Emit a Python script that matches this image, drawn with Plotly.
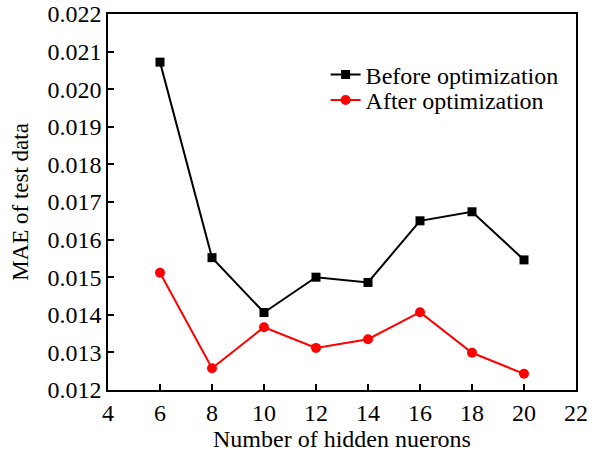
import plotly.graph_objects as go

neurons = [6, 8, 10, 12, 14, 16, 18, 20]
mae_before = [0.02072, 0.01552, 0.01406, 0.01500, 0.01486, 0.01650, 0.01674, 0.01546]
mae_after = [0.01512, 0.01258, 0.01367, 0.01312, 0.01335, 0.01407, 0.01299, 0.01243]

x_ticks = [4, 6, 8, 10, 12, 14, 16, 18, 20, 22]
y_ticks = [0.012, 0.013, 0.014, 0.015, 0.016, 0.017, 0.018, 0.019, 0.020, 0.021, 0.022]

font_family = "Liberation Serif, Times New Roman, serif"
fsize = 24

fig = go.Figure()
fig.add_trace(go.Scatter(
    x=neurons, y=mae_before, name="Before optimization",
    mode="lines+markers",
    line=dict(color="black", width=2),
    marker=dict(symbol="square", size=9, color="black"),
    legend="legend", showlegend=True,
))
fig.add_trace(go.Scatter(
    x=neurons, y=mae_after, name="After optimization",
    mode="lines+markers",
    line=dict(color="#ff0000", width=2),
    marker=dict(symbol="circle", size=10, color="#ff0000"),
    legend="legend2", showlegend=True,
))

axis_common = dict(
    showline=True, linecolor="black", linewidth=1.5, mirror=True,
    ticks="inside", ticklen=6, tickwidth=1.5, tickcolor="black",
    showgrid=False, zeroline=False, automargin=False,
    tickfont=dict(family=font_family, size=fsize, color="black"),
)

fig.update_xaxes(
    range=[4, 22], tickvals=x_ticks, ticktext=[str(v) for v in x_ticks],
    title=dict(text="Number of hidden nuerons", font=dict(family=font_family, size=fsize, color="black"), standoff=13),
    **axis_common,
)
fig.update_yaxes(
    range=[0.012, 0.022], tickvals=y_ticks, ticktext=[f"{v:.3f}" for v in y_ticks],
    title=dict(text="MAE of test data", font=dict(family=font_family, size=23, color="black"), standoff=12),
    **axis_common,
)

legend_style = dict(
    xanchor="left", yanchor="middle",
    bgcolor="rgba(0,0,0,0)", borderwidth=0,
    font=dict(family=font_family, size=fsize, color="black"),
    itemwidth=30,
)

fig.update_layout(
    width=592, height=452,
    margin=dict(l=108, r=16, t=14, b=62),
    paper_bgcolor="white", plot_bgcolor="white",
    font=dict(family=font_family, color="black"),
    showlegend=True,
    legend=dict(x=0.465, y=0.838, **legend_style),
    legend2=dict(x=0.465, y=0.770, **legend_style),
)

fig.write_html("out.html")
